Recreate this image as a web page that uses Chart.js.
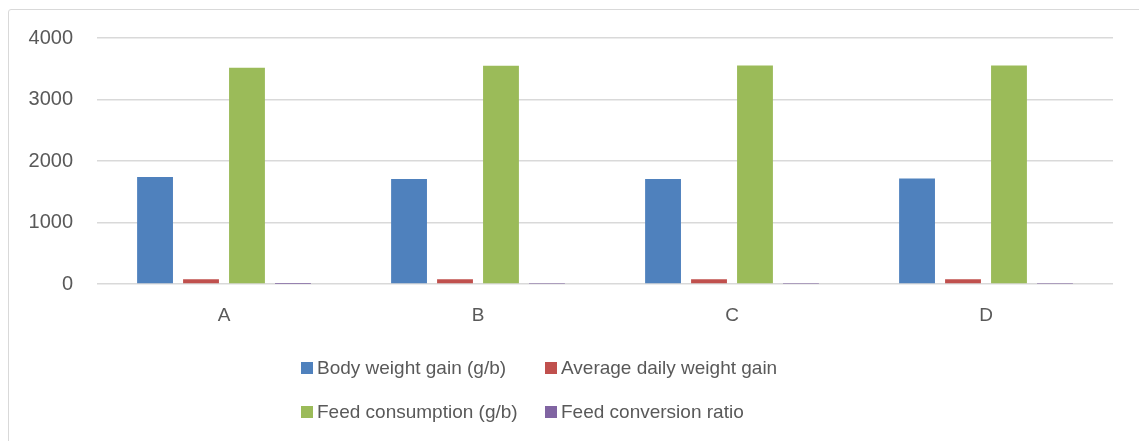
<!DOCTYPE html>
<html>
<head>
<meta charset="utf-8">
<script src="https://cdn.jsdelivr.net/npm/chart.js@4/dist/chart.umd.min.js"></script>
<style>
  html, body { margin: 0; padding: 0; background: #ffffff; overflow: hidden; width: 1139px; height: 441px; }
  #frame { position: absolute; left: 8px; top: 9px; width: 1160px; height: 460px; border: 1px solid #d9d9d9; border-radius: 3px; box-sizing: border-box; }
  #wrap { position: absolute; left: 0; top: 0; width: 1139px; height: 441px; }
</style>
</head>
<body>
<div id="frame"></div>
<div id="wrap"><canvas id="c" width="1139" height="441"></canvas></div>
<script>
const categories = ['A', 'B', 'C', 'D'];
const seriesNames = ['Body weight gain (g/b)', 'Average daily weight gain', 'Feed consumption (g/b)', 'Feed conversion ratio'];
const bodyWeightGain = [1740, 1706, 1708, 1716];
const avgDailyGain = [79, 78, 78, 78];
const feedConsumption = [3515, 3550, 3552, 3552];
const feedConversion = [2.02, 2.08, 2.08, 2.07];
const yTicks = [0, 1000, 2000, 3000, 4000];
const colors = ['#4F81BD', '#C0504D', '#9BBB59', '#8064A2'];

const FONT = '"Liberation Sans", Arial, sans-serif';
const TEXT = '#595959';

const columnLegend = {
  id: 'columnLegend',
  afterDraw(chart) {
    const ctx = chart.ctx;
    const ds = chart.data.datasets;
    const colX = [301, 545];
    const rowY = [368, 412];
    ctx.save();
    ctx.font = '19px ' + FONT;
    ctx.textBaseline = 'middle';
    ctx.textAlign = 'left';
    ds.forEach((d, i) => {
      const x = colX[i % 2];
      const y = rowY[Math.floor(i / 2)];
      ctx.fillStyle = d.backgroundColor;
      ctx.fillRect(x, y - 6, 12, 12);
      ctx.fillStyle = TEXT;
      ctx.fillText(d.label, x + 16, y + 1);
    });
    ctx.restore();
  }
};

const values = [bodyWeightGain, avgDailyGain, feedConsumption, feedConversion];

new Chart(document.getElementById('c'), {
  type: 'bar',
  data: {
    labels: categories,
    datasets: seriesNames.map((name, i) => ({
      label: name,
      data: values[i],
      backgroundColor: colors[i],
      borderWidth: 0,
      categoryPercentage: 0.724,
      barPercentage: 0.78
    }))
  },
  options: {
    responsive: false,
    animation: false,
    layout: { padding: { top: 38, right: 26, bottom: 0, left: 0 } },
    plugins: { legend: { display: false }, tooltip: { enabled: false } },
    scales: {
      x: {
        grid: { display: false, drawTicks: false },
        border: { display: false },
        ticks: { color: TEXT, font: { family: FONT, size: 19 }, padding: 20 },
        afterFit(s) { s.height = 441 - 284; }
      },
      y: {
        min: 0,
        max: 4000,
        afterBuildTicks(s) { s.ticks = yTicks.map(v => ({ value: v })); },
        grid: { color: '#d9d9d9', lineWidth: 1.5, drawTicks: false },
        border: { display: false },
        ticks: { color: TEXT, font: { family: FONT, size: 20 }, padding: 24, callback: v => String(v) },
        afterFit(s) { s.width = 97; }
      }
    }
  },
  plugins: [columnLegend]
});
</script>
</body>
</html>
